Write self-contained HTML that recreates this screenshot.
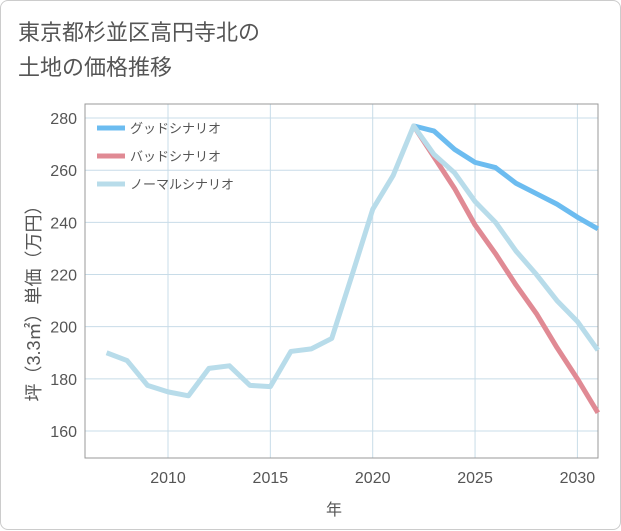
<!DOCTYPE html>
<html><head><meta charset="utf-8"><style>
body{margin:0;background:#fff;}
.card{position:absolute;left:0;top:0;width:619px;height:528px;border:1px solid #ccc;border-radius:8px;background:#fff;font-family:"Liberation Sans","Noto Sans CJK JP",sans-serif;}
.title{position:absolute;left:17px;top:14px;font-size:22px;line-height:35px;color:#555;}
</style></head><body>
<div class="card">
<div class="title">東京都杉並区高円寺北の<br>土地の価格推移</div>
<svg id="chart" width="621" height="530" style="position:absolute;left:0;top:0"></svg>
</div>
<script>
const years=[2007,2008,2009,2010,2011,2012,2013,2014,2015,2016,2017,2018,2019,2020,2021,2022,2023,2024,2025,2026,2027,2028,2029,2030,2031];
const normalVals=[190,187,177.5,175,173.5,184,185,177.5,177,190.5,191.5,195.5,220,245,258,277,266,259,248,240,229,220,210,202,191];
const futureYears=[2022,2023,2024,2025,2026,2027,2028,2029,2030,2031];
const goodVals=[277,275,268,263,261,255,251,247,242,237.5];
const badVals=[277,265,253,239,228,216,205,192,180,167];
const xTicks=[2010,2015,2020,2025,2030];
const yTicks=[160,180,200,220,240,260,280];
const seriesNames=["グッドシナリオ","バッドシナリオ","ノーマルシナリオ"];
const NS="http://www.w3.org/2000/svg";
const svg=document.getElementById('chart');
const L=84,R=597,T=103,B=457;
const x=v=>167+(v-2010)*20.47;
const y=v=>430-(v-160)*2.608;
function mk(t,a){const e=document.createElementNS(NS,t);for(const k in a)e.setAttribute(k,a[k]);svg.appendChild(e);return e;}
for(const t of xTicks){const g=mk('line',{x1:x(t),x2:x(t),y1:T,y2:B,stroke:'#c8dce8','stroke-width':1});


const l=mk('text',{x:x(t),y:482,'text-anchor':'middle','font-size':16,fill:'#555'});l.textContent=t;

}
for(const t of yTicks){const g=mk('line',{x1:L,x2:R,y1:y(t),y2:y(t),stroke:'#c8dce8','stroke-width':1});


const l=mk('text',{x:76,y:y(t)+6,'text-anchor':'end','font-size':16,fill:'#555'});l.textContent=t;

}
const fr=mk('rect',{x:L,y:T,width:R-L,height:B-T,fill:'none',stroke:'#999','stroke-width':1});


function line(xs,vs,c,n){const p=mk('polyline',{points:xs.map((a,i)=>x(a)+','+y(vs[i])).join(' '),fill:'none',stroke:c,'stroke-width':5,'stroke-linejoin':'round'});

}
line(futureYears,goodVals,'#6cbcf0','good-scenario-line');
line(futureYears,badVals,'#e08a94','bad-scenario-line');
line(years,normalVals,'#b8dcea','normal-scenario-line');
const cols=['#6cbcf0','#e08a94','#b8dcea'];
seriesNames.forEach((n,i)=>{const yy=127+i*28;
const s=mk('line',{x1:96,x2:124,y1:yy,y2:yy,stroke:cols[i],'stroke-width':5});


const t=mk('text',{x:129,y:yy+5,'font-size':13,fill:'#555'});t.textContent=n;

});
const xt=mk('text',{x:333,y:514,'text-anchor':'middle','font-size':16,fill:'#555'});xt.textContent='年';


const yt=mk('text',{x:0,y:0,'text-anchor':'middle','font-size':18,fill:'#555',transform:'translate(39,298) rotate(-90)'});yt.textContent='坪（3.3㎡）単価（万円）';


</script>
</body></html>
